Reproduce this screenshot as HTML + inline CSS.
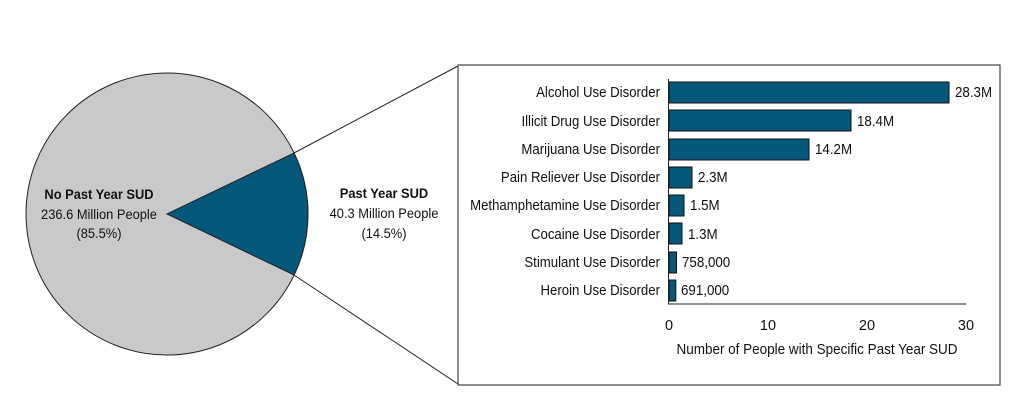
<!DOCTYPE html>
<html><head><style>body{margin:0;background:#fff}svg{display:block}</style></head><body>
<svg width="1024" height="420" xmlns="http://www.w3.org/2000/svg" font-family="'Liberation Sans Narrow','Liberation Sans',sans-serif" fill="#111">
<circle cx="167" cy="214" r="141" fill="#c9c9cb" stroke="#222" stroke-width="1"/>
<path d="M167,214 L294,153 A141,141 0 0 1 294,275 Z" fill="#06587a" stroke="#222" stroke-width="1"/>
<line x1="294" y1="153" x2="458" y2="66" stroke="#222"/>
<line x1="294" y1="275" x2="458" y2="384" stroke="#222"/>
<rect x="458" y="65" width="542" height="320" fill="#fff" stroke="#444" stroke-width="1.2"/>
<g font-size="14" text-anchor="middle">
<text transform="translate(99,199) scale(0.92,1)" font-weight="bold">No Past Year SUD</text>
<text transform="translate(99,219) scale(0.92,1)">236.6 Million People</text>
<text transform="translate(99,238) scale(0.92,1)">(85.5%)</text>
<text transform="translate(384,198) scale(0.92,1)" font-weight="bold">Past Year SUD</text>
<text transform="translate(384,218) scale(0.92,1)">40.3 Million People</text>
<text transform="translate(384,238) scale(0.92,1)">(14.5%)</text>
</g>
<g font-size="14.5">
<g text-anchor="end">
<text transform="translate(660,97) scale(0.91,1)">Alcohol Use Disorder</text>
<text transform="translate(660,126) scale(0.91,1)">Illicit Drug Use Disorder</text>
<text transform="translate(660,154) scale(0.91,1)">Marijuana Use Disorder</text>
<text transform="translate(660,182) scale(0.91,1)">Pain Reliever Use Disorder</text>
<text transform="translate(660,210) scale(0.91,1)">Methamphetamine Use Disorder</text>
<text transform="translate(660,239) scale(0.91,1)">Cocaine Use Disorder</text>
<text transform="translate(660,267) scale(0.91,1)">Stimulant Use Disorder</text>
<text transform="translate(660,295) scale(0.91,1)">Heroin Use Disorder</text>
</g>
<g fill="#06587a" stroke="#111" stroke-width="1">
<rect x="669" y="82" width="280" height="21"/>
<rect x="669" y="110" width="182" height="21"/>
<rect x="669" y="139" width="140" height="21"/>
<rect x="669" y="167" width="23" height="21"/>
<rect x="669" y="195" width="15" height="21"/>
<rect x="669" y="223" width="13" height="21"/>
<rect x="669" y="252" width="7.5" height="21"/>
<rect x="669" y="280" width="6.8" height="21"/>
</g>
<text transform="translate(955,97) scale(0.92,1)">28.3M</text>
<text transform="translate(857,126) scale(0.92,1)">18.4M</text>
<text transform="translate(815,154) scale(0.92,1)">14.2M</text>
<text transform="translate(698,182) scale(0.92,1)">2.3M</text>
<text transform="translate(690,210) scale(0.92,1)">1.5M</text>
<text transform="translate(688,239) scale(0.92,1)">1.3M</text>
<text transform="translate(682,267) scale(0.92,1)">758,000</text>
<text transform="translate(681,295) scale(0.92,1)">691,000</text>
<line x1="668.5" y1="79" x2="668.5" y2="304" stroke="#222"/>
<line x1="668" y1="304" x2="966" y2="304" stroke="#222"/>
<g text-anchor="middle">
<text x="669" y="330">0</text><text x="768" y="330">10</text><text x="867" y="330">20</text><text x="966" y="330">30</text>
<text transform="translate(817,354) scale(0.93,1)">Number of People with Specific Past Year SUD</text>
</g>
</g>
</svg>
</body></html>
